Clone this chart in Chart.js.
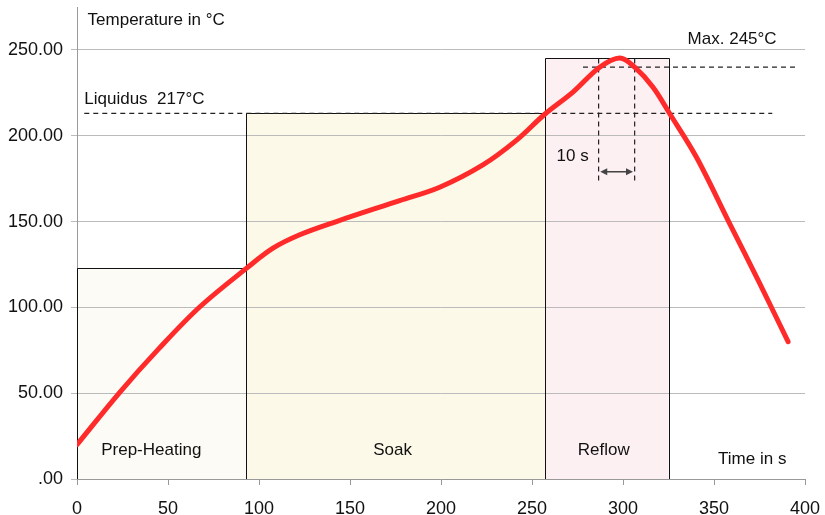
<!DOCTYPE html>
<html>
<head>
<meta charset="utf-8">
<script src="https://cdn.jsdelivr.net/npm/chart.js@4.4.1/dist/chart.umd.min.js"></script>
<style>
  html, body { margin: 0; padding: 0; background: #fff; }
  #wrap { width: 825px; height: 515px; position: relative; }
</style>
</head>
<body>
<div id="wrap"><canvas id="profile"></canvas></div>
<script>
// reflow profile
const times = [0, 23.5, 44.6, 67.4, 93.4, 107.7, 122.4, 142.5, 177.3, 199.3, 223, 241.4, 257, 272.5, 287.2, 298.2, 306.4, 316.5, 325.7, 340.3, 358.6, 375.1, 390.7];
const temps = [20, 50.5, 75.5, 100.2, 123, 134.5, 142.3, 150, 162.2, 170, 183, 197.3, 212.5, 225.4, 239.9, 245.3, 240, 228.3, 212.8, 187.6, 148.8, 114, 80];

// phases
const phaseNames = ['Prep-Heating', 'Soak', 'Reflow'];
const phaseStart = [0, 93, 257];
const phaseEnd = [93, 257, 325];
const phaseTop = [123, 213, 245];

// reference lines
const liquidusLine = [{ x: 4, y: 213 }, { x: 382, y: 213 }];
const maxLine = [{ x: 278, y: 240 }, { x: 395, y: 240 }];
const windowLeft = [{ x: 286.6, y: 245 }, { x: 286.6, y: 172 }];
const windowRight = [{ x: 306.4, y: 245 }, { x: 306.4, y: 172 }];
const arrowSpan = [287.5, 305.5];
const arrowTemp = 179;

const xTicks = [0, 50, 100, 150, 200, 250, 300, 350, 400];
const yTicks = [0, 50, 100, 150, 200, 250];

const FONT = '"Liberation Sans", Arial, sans-serif';

// text notes in data units
const notes = [
  { text: 'Temperature in °C', x: 5.8, y: 267.5, align: 'left' },
  { text: 'Liquidus  217°C', x: 4, y: 221.5, align: 'left' },
  { text: 'Max. 245°C', x: 335.5, y: 256, align: 'left' },
  { text: '10 s', x: 263.5, y: 188, align: 'left' },
  { text: 'Prep-Heating', x: 40.8, y: 16.5, align: 'center' },
  { text: 'Soak', x: 173.4, y: 16.5, align: 'center' },
  { text: 'Reflow', x: 289.4, y: 16.5, align: 'center' },
  { text: 'Time in s', x: 371, y: 11.5, align: 'center' }
];

const phaseFill = ['#fcfbf5', '#fdf9e9', '#fdf0f3'];

const boxesPlugin = {
  id: 'boxes',
  beforeDraw(chart) {
    const { ctx, scales: { x, y } } = chart;
    ctx.save();
    phaseNames.forEach((n, i) => {
      const l = x.getPixelForValue(phaseStart[i]);
      const r = x.getPixelForValue(phaseEnd[i]);
      const t = y.getPixelForValue(phaseTop[i]);
      const b = y.getPixelForValue(0);
      ctx.fillStyle = phaseFill[i];
      ctx.fillRect(l, t, r - l, b - t);
    });
    ctx.restore();
  },
  beforeDatasetsDraw(chart) {
    const { ctx, scales: { x, y } } = chart;
    ctx.save();
    ctx.strokeStyle = '#111';
    ctx.lineWidth = 1;
    phaseNames.forEach((n, i) => {
      const l = Math.round(x.getPixelForValue(phaseStart[i])) + 0.5;
      const r = Math.round(x.getPixelForValue(phaseEnd[i])) + 0.5;
      const t = Math.round(y.getPixelForValue(phaseTop[i])) + 0.5;
      const b = y.getPixelForValue(0);
      ctx.beginPath();
      ctx.moveTo(l, b);
      ctx.lineTo(l, t);
      ctx.lineTo(r, t);
      ctx.lineTo(r, b);
      ctx.stroke();
    });
    // text
    ctx.fillStyle = '#111';
    ctx.textBaseline = 'middle';
    notes.forEach(n => {
      ctx.font = '17px ' + FONT;
      ctx.textAlign = n.align;
      ctx.fillText(n.text, x.getPixelForValue(n.x), y.getPixelForValue(n.y));
    });
    ctx.restore();
  },
  afterDatasetsDraw(chart) {
    const { ctx, scales: { x, y } } = chart;
    const a = x.getPixelForValue(arrowSpan[0]);
    const b = x.getPixelForValue(arrowSpan[1]);
    const py = y.getPixelForValue(arrowTemp);
    ctx.save();
    ctx.strokeStyle = '#444';
    ctx.fillStyle = '#444';
    ctx.lineWidth = 1.5;
    ctx.beginPath();
    ctx.moveTo(a + 4, py);
    ctx.lineTo(b - 4, py);
    ctx.stroke();
    [[a, 1], [b, -1]].forEach(([px, d]) => {
      ctx.beginPath();
      ctx.moveTo(px, py);
      ctx.lineTo(px + 7 * d, py - 3.5);
      ctx.lineTo(px + 7 * d, py + 3.5);
      ctx.closePath();
      ctx.fill();
    });
    ctx.restore();
  }
};

const dash = (pts) => ({
  data: pts,
  showLine: true,
  borderColor: '#222',
  borderWidth: 1.2,
  borderDash: [5, 4],
  pointRadius: 0,
  order: 2
});

new Chart(document.getElementById('profile'), {
  type: 'scatter',
  data: {
    datasets: [
      {
        data: times.map((t, i) => ({ x: t, y: temps[i] })),
        showLine: true,
        borderColor: '#ff2a2a',
        borderWidth: 5,
        borderCapStyle: 'round',
        tension: 0.35,
        pointRadius: 0,
        order: 0
      },
      dash(liquidusLine),
      dash(maxLine),
      dash(windowLeft),
      dash(windowRight)
    ]
  },
  options: {
    responsive: true,
    maintainAspectRatio: false,
    animation: false,
    layout: { padding: { top: 7, right: 20, left: 0, bottom: 0 } },
    plugins: { legend: { display: false }, tooltip: { enabled: false } },
    scales: {
      x: {
        type: 'linear',
        min: 0,
        max: 400,
        afterBuildTicks: s => { s.ticks = xTicks.map(v => ({ value: v })); },
        afterFit: s => { s.height = 36; s.paddingLeft = 0; s.paddingRight = 0; },
        grid: { drawOnChartArea: false, color: '#999', tickLength: 6 },
        border: { color: '#999' },
        ticks: { color: '#111', font: { size: 18, family: FONT }, padding: 13, maxRotation: 0 }
      },
      y: {
        type: 'linear',
        min: 0,
        max: 275,
        afterBuildTicks: s => { s.ticks = yTicks.map(v => ({ value: v })); },
        afterFit: s => { s.width = 77; s.paddingTop = 0; s.paddingBottom = 0; },
        grid: { color: '#bbb', tickLength: 6 },
        border: { color: '#999' },
        ticks: {
          color: '#111',
          font: { size: 18, family: FONT },
          padding: 8,
          callback: v => v === 0 ? '.00' : v.toFixed(2)
        }
      }
    }
  },
  plugins: [boxesPlugin]
});
</script>
</body>
</html>
